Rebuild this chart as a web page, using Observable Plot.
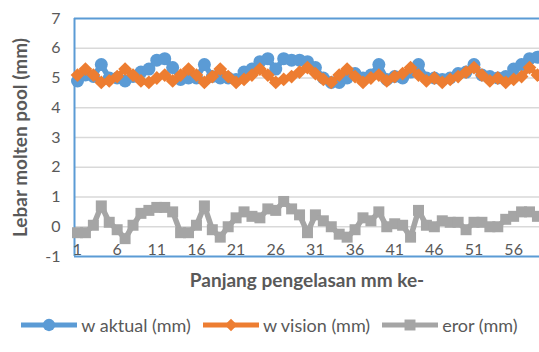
<!DOCTYPE html>
<html>
<head>
<meta charset="utf-8">
<script src="https://cdn.jsdelivr.net/npm/d3@7"></script>
<script src="https://cdn.jsdelivr.net/npm/@observablehq/plot@0.6"></script>
<style>
  html, body { margin: 0; padding: 0; background: #fff; }
  body { width: 539px; height: 352px; overflow: hidden; font-family: Lato, "Open Sans", sans-serif; }
  #legend { display: flex; justify-content: center; align-items: center; height: 50px; color: #595959; font-size: 18px; white-space: nowrap; }
  #legend .item { display: flex; align-items: center; margin: 0 6px; }
  #legend svg { margin-right: 4px; }
</style>
</head>
<body>
<div id="chart"></div>
<div id="legend"></div>
<script>
// ---- data ----
const index = d3.range(1, 60); // 1..59
const wAktual = [4.9,5.1,5.05,5.45,5.0,5.0,4.9,5.05,5.2,5.3,5.6,5.65,5.35,4.95,5.0,5.0,5.45,5.05,5.0,5.0,
  4.95,5.2,5.3,5.55,5.65,5.3,5.65,5.6,5.6,5.55,5.35,5.0,4.85,4.85,5.0,5.15,5.0,5.1,5.45,4.95,
  5.05,5.0,5.2,5.45,5.0,5.0,4.95,5.0,5.15,5.2,5.45,5.1,5.05,5.0,5.05,5.3,5.45,5.65,5.7];
const wVision = [5.1,5.3,5.1,4.85,4.9,5.05,5.3,5.1,4.9,4.85,5.0,5.1,4.9,5.1,5.3,5.1,4.85,5.05,5.3,5.05,
  4.85,4.95,5.1,5.3,5.1,4.85,4.95,5.05,5.2,5.35,5.15,4.95,4.85,5.1,5.3,5.05,4.85,5.0,5.1,4.9,
  5.05,5.15,5.35,5.1,4.9,5.0,4.85,4.95,5.05,5.2,5.35,5.1,4.9,5.0,4.85,4.95,5.05,5.35,5.1];
const eror = [-0.2,-0.2,0.05,0.7,0.15,-0.1,-0.4,0.05,0.45,0.55,0.65,0.65,0.5,-0.2,-0.2,0.05,0.7,-0.1,-0.35,0.0,
  0.3,0.5,0.35,0.3,0.6,0.55,0.85,0.6,0.4,-0.2,0.4,0.2,0.0,-0.25,-0.35,-0.1,0.3,0.2,0.5,0.0,
  0.1,0.05,-0.35,0.55,0.05,0.0,0.2,0.15,0.15,-0.1,0.15,0.15,0.0,0.0,0.25,0.35,0.5,0.5,0.35];
const xTicks = [1,6,11,16,21,26,31,36,41,46,51,56];
const yTicks = [-1,0,1,2,3,4,5,6,7];
const seriesNames = ["w aktual (mm)", "w vision (mm)", "eror (mm)"];
const colors = ["#5b9bd5", "#ed7d31", "#a5a5a5"];
const symbols = ["circle", "diamond2", "square"];
const xTitle = "Panjang pengelasan mm ke-";
const yTitle = "Lebar molten pool (mm)";

const seriesValues = [wAktual, wVision, eror];
const rows = seriesValues.map(vals => index.map((i, k) => ({x: i, y: vals[k]})));
const xDomain = [0.62, 59.26];
const yDomain = [-1, 7];

const lineMarks = [];
rows.forEach((data, s) => {
  lineMarks.push(Plot.line(data, {x: "x", y: "y", stroke: colors[s], strokeWidth: 5.5, curve: "linear"}));
  lineMarks.push(Plot.dot(data, {x: "x", y: "y", fill: colors[s], stroke: "none", symbol: () => symbols[s],
    r: s === 0 ? 6.5 : s === 1 ? 6.2 : 6.2}));
});

const chart = Plot.plot({
  width: 539,
  height: 300,
  marginLeft: 74,
  marginRight: 0,
  marginTop: 18,
  marginBottom: 44,
  style: {fontFamily: "Lato, 'Open Sans', sans-serif", fontSize: "16px", color: "#595959", background: "#fff", overflow: "hidden"},
  x: {domain: xDomain},
  y: {domain: yDomain},
  marks: [
    Plot.gridY(yTicks.filter(v => v > -1 && v < 7), {stroke: "#d9d9d9", strokeOpacity: 1, strokeWidth: 1.5}),
    Plot.ruleY([yDomain[0], yDomain[1]], {stroke: "#5b9bd5", strokeWidth: 2}),
    Plot.ruleX([xDomain[0]], {stroke: "#5b9bd5", strokeWidth: 2}),
    ...lineMarks,
    Plot.axisY({ticks: yTicks, tickSize: 0, tickPadding: 14, tickFormat: d => String(d), label: null, fontSize: 16, fill: "#595959"}),
    Plot.axisX({ticks: xTicks, tickSize: 0, tickPadding: 0, dy: -13, tickFormat: d => String(d), label: null, fontSize: 16, fill: "#595959"}),
    Plot.text([xTitle], {frameAnchor: "bottom", dy: 30, text: d => d, fontWeight: "bold", fontSize: 19, fill: "#595959"}),
    Plot.text([yTitle], {frameAnchor: "left", dx: -54, rotate: -90, textAnchor: "middle", text: d => d, fontWeight: "bold", fontSize: 19, fill: "#595959"})
  ]
});
document.getElementById("chart").appendChild(chart);

// ---- legend ----
const legend = d3.select("#legend");
seriesNames.forEach((name, s) => {
  const item = legend.append("div").attr("class", "item");
  const svg = item.append("svg").attr("width", 56).attr("height", 16);
  svg.append("line").attr("x1", 0).attr("x2", 56).attr("y1", 8).attr("y2", 8)
    .attr("stroke", colors[s]).attr("stroke-width", 5);
  svg.append("path").attr("transform", "translate(28,8)")
    .attr("d", d3.symbol(s === 0 ? d3.symbolCircle : s === 1 ? d3.symbolDiamond2 : d3.symbolSquare, s === 1 ? 100 : 120)())
    .attr("fill", colors[s]);
  item.append("span").text(name);
});
</script>
</body>
</html>
